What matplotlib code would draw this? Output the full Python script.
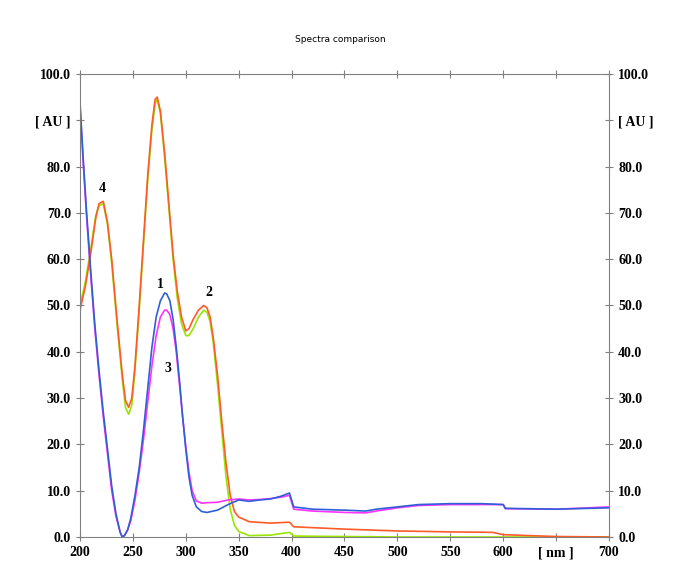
import matplotlib
matplotlib.use("Agg")
import matplotlib.pyplot as plt

wl_b = [200,203,206,210,214,218,222,226,230,234,238,240,242,245,248,252,256,260,264,268,272,276,280,282,285,288,291,294,297,300,303,306,310,315,320,330,340,350,360,370,380,390,398,402,420,450,470,480,500,520,550,580,600,602,650,700]
blue = [94,82,71,58,46,36,27,19,11,5,1,0,0.3,1.5,4,9,15,23,32,41,47.5,51,52.7,52.5,51,47,41,34,26,19,13,9,6.5,5.5,5.3,5.8,7,8,7.7,8,8.2,8.8,9.5,6.5,6.0,5.8,5.6,6,6.5,7,7.2,7.2,7,6.2,6,6.3]
magenta = [93,81,70,57,45,35,26,18,10,4.5,1,0,0.3,1.5,3.5,8,14,21,29,37,43.5,47.5,49,49,48,45,40,33,26,19.5,14,10,7.8,7.3,7.4,7.5,8,8.2,8,8.1,8.3,8.6,9,6.0,5.6,5.3,5.2,5.6,6.3,6.8,7,7,7,6.1,6,6.5]
wl_o = [200,205,210,215,218,222,226,230,235,240,243,246,249,252,256,260,264,268,271,273,276,280,284,288,292,296,300,303,307,312,317,320,323,326,330,334,338,342,346,350,360,380,398,402,450,500,550,590,600,650,700]
orange = [49,54,61,69,72,72.5,68,60,47,35,29.5,28,30,37,50,64,78,89,94.5,95,92,83,72,61,53,47.5,44.5,45,47,49,50,49.5,47.5,43,35,25,16,9,5.5,4.3,3.3,3,3.2,2.2,1.7,1.3,1.1,1,0.5,0.1,0]
green = [50,55,62,69.5,71.5,72,67.5,59,46,34,28,26.5,28.5,36,49,63,77,88,93.5,94.5,91.5,82,71,60,51.5,46,43.5,43.5,45,47.5,49,48.5,46.5,42,33,23,13,6,2.5,1.2,0.3,0.4,1,0.2,0.1,0,0,0,0,0,0]

ytick_vals = [0,10,20,30,40,50,60,70,80,90,100]
xtick_vals = [200,250,300,350,400,450,500,550,600,700]

fig = plt.figure(figsize=(6.8,5.87), dpi=100)
ax = fig.add_axes([0.1176,0.0852,0.778,0.7888])
ax.plot(wl_o, green, color='#99e600', lw=1.2)
ax.plot(wl_o, orange, color='#ff5a28', lw=1.2)
ax.plot(wl_b, magenta, color='#ff33ff', lw=1.2)
ax.plot(wl_b, blue, color='#2f5fd8', lw=1.2)
ax.set_xlim(200,700); ax.set_ylim(0,100)
ax.set_xticks(xtick_vals+[650]); ax.set_yticks(ytick_vals)
ax.set_xticklabels([str(v) for v in xtick_vals]+['[ nm ]'])
ax.set_yticklabels([f"{v:.1f}" if v != 90 else "[ AU ]" for v in ytick_vals])
ax.tick_params(direction='inout', length=6, colors='#808080', labelcolor='black',
               top=True, right=True, labelright=True)
for lab in ax.xaxis.get_majorticklabels()+ax.yaxis.get_majorticklabels()+ax.yaxis.get_ticklabels(minor=False):
    lab.set_fontfamily('Liberation Serif'); lab.set_fontweight('bold'); lab.set_fontsize(10)
for t in ax.yaxis.get_major_ticks():
    t.label2.set_fontfamily('Liberation Serif'); t.label2.set_fontweight('bold'); t.label2.set_fontsize(10)
for s in ax.spines.values():
    s.set_color('#808080')
for t, x, y in [('1',276,54.6),('2',322,52.7),('3',283,36.3),('4',221,75.2)]:
    ax.text(x, y, t, ha='center', va='center', fontsize=10, fontweight='bold', family='Liberation Serif')
fig.text(0.5, 0.932, 'Spectra comparison', ha='center', va='center', fontsize=6.5)
fig.savefig('out.png', dpi=100)
